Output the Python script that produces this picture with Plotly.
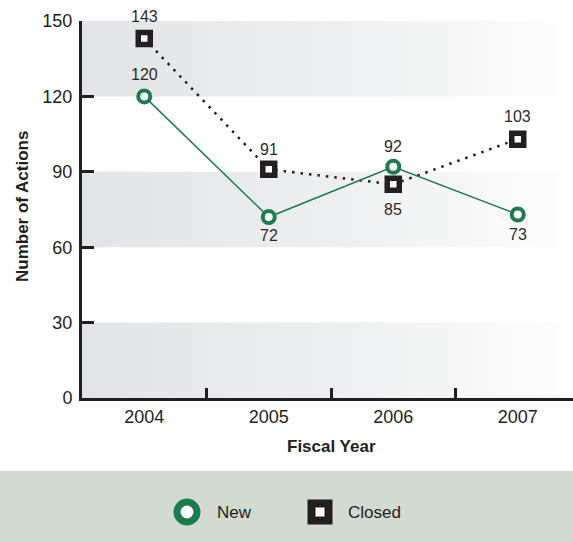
import plotly.graph_objects as go

# ---- data ----
years = ["2004", "2005", "2006", "2007"]
new_actions = [120, 72, 92, 73]
closed_actions = [143, 91, 85, 103]
y_ticks = [0, 30, 60, 90, 120, 150]
band_ranges = [(0, 30), (60, 90), (120, 150)]
legend_labels = ["New", "Closed"]

# ---- styling ----
GREEN = "#1e7b4e"
INK = "#231f20"
LABEL = "#2b2b2b"
FONT = "Liberation Sans"
TITLE_FONT = "Liberation Sans"
W, H = 573, 542
plot_left, plot_top, plot_bottom = 82, 21, 398
legend_top = 471
cat_step = 124.5  # px between year positions

xpos = list(range(len(years)))
x_lo = -0.5
x_hi = x_lo + (W - plot_left) / cat_step
band_end = x_lo + (556 - plot_left) / cat_step

fig = go.Figure()

# alternating shaded bands, fading to white on the right
for lo, hi in band_ranges:
    fig.add_trace(go.Scatter(
        x=[x_lo, band_end, band_end, x_lo, x_lo],
        y=[lo, lo, hi, hi, lo],
        mode="lines", line=dict(width=0), fill="toself",
        fillgradient=dict(type="horizontal",
                          colorscale=[[0, "#e3e4e7"], [0.55, "#eeeff0"], [1, "#fdfdfd"]]),
        hoverinfo="skip", showlegend=False, xaxis="x", yaxis="y"))

# Closed: dotted black line with square markers
fig.add_trace(go.Scatter(
    x=xpos, y=closed_actions, mode="lines+markers", name=legend_labels[1],
    line=dict(color=INK, width=2.5, dash="2.5px,6px"),
    marker=dict(symbol="square", size=12, color="white",
                line=dict(color=INK, width=5.5)),
    showlegend=False))

# New: solid green line with ring markers
fig.add_trace(go.Scatter(
    x=xpos, y=new_actions, mode="lines+markers", name=legend_labels[0],
    line=dict(color=GREEN, width=1.5),
    marker=dict(symbol="circle", size=12, color="white",
                line=dict(color=GREEN, width=4)),
    showlegend=False))

annotations = []
closed_shift = [22, 20, -25, 23]
new_shift = [22, -18, 20, -20]
for series, shifts in ((closed_actions, closed_shift), (new_actions, new_shift)):
    for i, v in enumerate(series):
        annotations.append(dict(
            x=xpos[i], y=v, xref="x", yref="y", text=str(v), showarrow=False,
            xanchor="center", yanchor="middle",
            yshift=shifts[i], font=dict(family=FONT, size=16, color=LABEL)))

# axis titles
annotations.append(dict(
    x=331 / W, y=(H - 446) / H, xref="paper", yref="paper",
    xanchor="center", yanchor="middle",
    text="<b>Fiscal Year</b>", showarrow=False,
    font=dict(family=TITLE_FONT, size=17, color=INK)))
annotations.append(dict(
    x=22 / W, y=(H - 207) / H, xref="paper", yref="paper", textangle=-90,
    xanchor="center", yanchor="middle",
    text="<b>Number of Actions</b>", showarrow=False,
    font=dict(family=TITLE_FONT, size=17, color=INK)))

# legend strip
leg_h = H - legend_top
leg_y = H - 512
leg_x = [187, 320]
fig.add_trace(go.Scatter(
    x=[leg_x[0]], y=[leg_y], mode="markers", xaxis="x2", yaxis="y2",
    marker=dict(symbol="circle", size=20, color="white", line=dict(color=GREEN, width=7)),
    hoverinfo="skip", showlegend=False))
fig.add_trace(go.Scatter(
    x=[leg_x[1]], y=[leg_y], mode="markers", xaxis="x2", yaxis="y2",
    marker=dict(symbol="square", size=17, color="white", line=dict(color=INK, width=8)),
    hoverinfo="skip", showlegend=False))
for lx, lab in zip([215, 346], legend_labels):
    annotations.append(dict(
        x=lx, y=leg_y, xref="x2", yref="y2", text=lab, showarrow=False,
        xanchor="left", yanchor="middle",
        font=dict(family=FONT, size=17, color=INK)))

fig.update_layout(
    width=W, height=H,
    margin=dict(l=0, r=0, t=0, b=0, pad=0, autoexpand=False),
    paper_bgcolor="white", plot_bgcolor="white",
    showlegend=False,
    annotations=annotations,
    shapes=[dict(type="rect", xref="paper", yref="paper", x0=0, x1=1,
                 y0=0, y1=leg_h / H, fillcolor="#d1dbcf", line=dict(width=0),
                 layer="below")],
    xaxis=dict(
        domain=[plot_left / W, 1], range=[x_lo, x_hi], automargin=False,
        tickmode="array", tickvals=xpos, ticktext=years, ticks="",
        minor=dict(tickmode="array", tickvals=[p + 0.5 for p in xpos[:-1]],
                   ticks="inside", ticklen=10, tickwidth=3, tickcolor=INK,
                   showgrid=False),
        showline=True, linewidth=3, linecolor=INK,
        showgrid=False, zeroline=False,
        tickfont=dict(family=FONT, size=18, color=INK),
        ticklabelstandoff=0, fixedrange=True),
    yaxis=dict(
        domain=[(H - plot_bottom) / H, (H - plot_top) / H], range=[0, 150],
        automargin=False,
        tickmode="array", tickvals=y_ticks,
        ticks="inside", ticklen=12, tickwidth=3, tickcolor=INK,
        showline=True, linewidth=3, linecolor=INK,
        showgrid=False, zeroline=False,
        tickfont=dict(family=FONT, size=18, color=INK),
        ticklabelstandoff=3, fixedrange=True),
    xaxis2=dict(domain=[0, 1], range=[0, W], visible=False, anchor="y2",
                automargin=False, fixedrange=True),
    yaxis2=dict(domain=[0, leg_h / H], range=[0, leg_h], visible=False, anchor="x2",
                automargin=False, fixedrange=True),
)

fig.write_html("out.html")
